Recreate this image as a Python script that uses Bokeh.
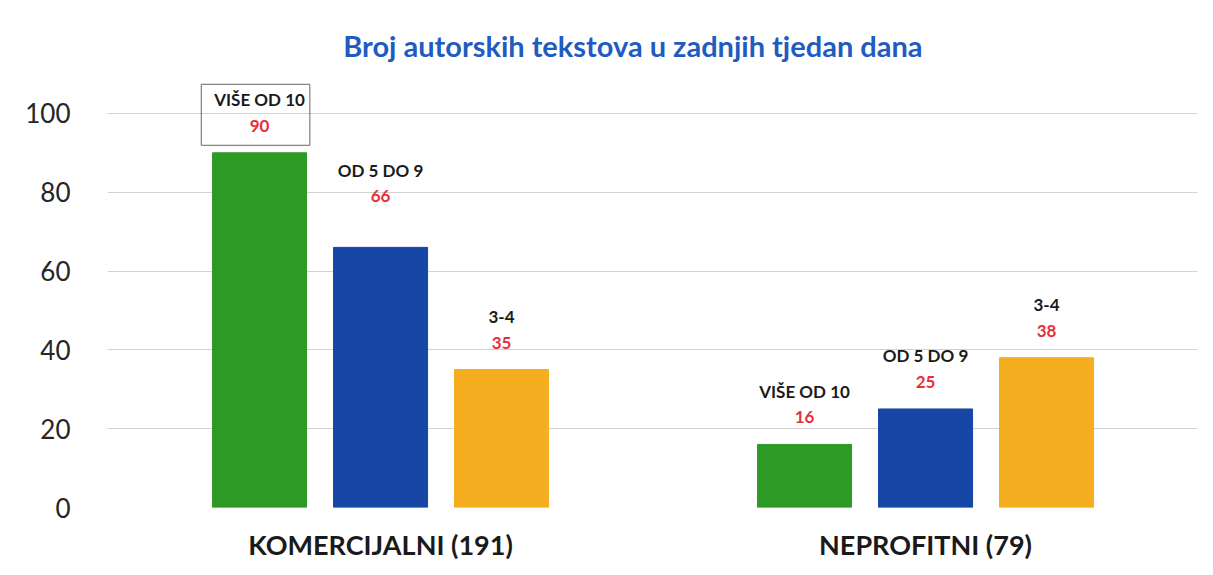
from bokeh.plotting import figure
from bokeh.models import ColumnDataSource, Range1d, FixedTicker
from bokeh.core.properties import value
from bokeh.embed import file_html
from bokeh.resources import INLINE

title_text = "Broj autorskih tekstova u zadnjih tjedan dana"
groups = ["KOMERCIJALNI (191)", "NEPROFITNI (79)"]
series = ["VIŠE OD 10", "OD 5 DO 9", "3-4"]
komercijalni = [90, 66, 35]
neprofitni = [16, 25, 38]
y_ticks = [0, 20, 40, 60, 80, 100]

colors = ["#2E9A26", "#1747A6", "#F4AE1F"]
sub_offsets = [-0.222, 0.0, 0.222]
label_lift = [0, 24, 0, 0, 0, 0]  # extra upward shift (px) of a label

xs, tops, names, vals, cols = [], [], [], [], []
for gi, gvals in enumerate([komercijalni, neprofitni]):
    for si, v in enumerate(gvals):
        xs.append(gi + sub_offsets[si])
        tops.append(v)
        names.append(series[si])
        vals.append(str(v))
        cols.append(colors[si])

src = ColumnDataSource(dict(
    x=xs, top=tops, name=names, val=vals, color=cols,
    name_off=[-53 - l for l in label_lift],
    val_off=[-27 - l for l in label_lift],
))

FONT = "Lato"

p = figure(width=1205, height=567, output_backend="svg", toolbar_location=None,
           x_range=Range1d(-0.501, 1.499), y_range=Range1d(0, 126.1),
           min_border_left=107, min_border_right=8, min_border_top=10, min_border_bottom=60)
p.outline_line_color = None
p.background_fill_color = "white"
p.border_fill_color = "white"

p.vbar(x="x", top="top", width=0.1725, bottom=0, color="color", source=src)

# box around the first label (text hidden, only its frame shown)
box_src = ColumnDataSource(dict(x=[xs[0]], top=[tops[0]], name=[names[0]]))
p.text(x="x", y="top", text="name", source=box_src, y_offset=-38, x_offset=-4,
       text_align="center", text_baseline="middle", text_font=value(FONT),
       text_font_style="bold", text_font_size="17px", text_alpha=0,
       border_line_color="#666666", border_line_width=1,
       padding=dict(top=20, right=9, bottom=20, left=9))

p.text(x="x", y="top", text="name", source=src, y_offset="name_off",
       text_align="center", text_baseline="middle", text_font=value(FONT),
       text_font_style="bold", text_font_size="17px", text_color="#1a1a1a")
p.text(x="x", y="top", text="val", source=src, y_offset="val_off",
       text_align="center", text_baseline="middle", text_font=value(FONT),
       text_font_style="bold", text_font_size="17px", text_color="#E8303A")

# title
p.text(x=[0.463], y=[117.3], text=[title_text], text_align="center",
       text_baseline="middle", text_font=value(FONT), text_font_style="bold",
       text_font_size="29px", text_color="#1F5BC0")

p.xaxis.ticker = FixedTicker(ticks=[0, 1])
p.xaxis.major_label_overrides = {0: groups[0], 1: groups[1]}
p.xaxis.major_label_text_font = FONT
p.xaxis.major_label_text_font_style = "bold"
p.xaxis.major_label_text_font_size = "27px"
p.xaxis.major_label_text_color = "#1a1a1a"
p.xaxis.major_label_standoff = 14
p.xaxis.axis_line_color = None
p.xaxis.major_tick_line_color = None
p.xaxis.minor_tick_line_color = None

p.yaxis.ticker = FixedTicker(ticks=y_ticks)
p.yaxis.major_label_text_font = FONT
p.yaxis.major_label_text_font_size = "26px"
p.yaxis.major_label_text_color = "#262626"
p.yaxis.major_label_standoff = 31
p.yaxis.axis_line_color = None
p.yaxis.major_tick_line_color = None
p.yaxis.minor_tick_line_color = None

p.xgrid.grid_line_color = None
p.ygrid.ticker = FixedTicker(ticks=y_ticks)
p.ygrid.grid_line_color = "#d2d2d2"
p.ygrid.grid_line_width = 1

open("out.html", "w").write(file_html(p, INLINE))
